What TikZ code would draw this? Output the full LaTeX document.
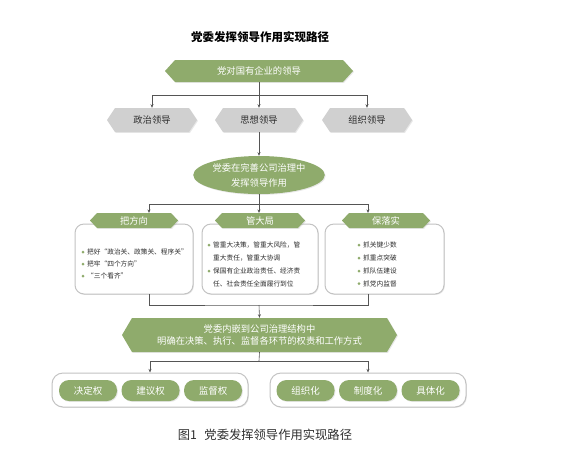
\documentclass[tikz,border=0pt]{standalone}
\usepackage{fontspec}
\setmainfont{Noto Sans CJK SC}
\usetikzlibrary{arrows.meta,shadows,shapes.geometric}
\definecolor{pgreen}{RGB}{143,171,108}
\definecolor{pgray}{RGB}{208,208,208}
\definecolor{lnc}{RGB}{85,85,85}
\definecolor{bord}{RGB}{195,195,195}
\definecolor{txt}{RGB}{45,45,45}
% name, x, y, width, height, tip depth, fill colour, text
\newcommand\hexa[8]{%
  \fill[fill=#7, softshadow] (#2-#4/2,#3) -- (#2-#4/2+#6,#3-#5/2) -- (#2+#4/2-#6,#3-#5/2)
     -- (#2+#4/2,#3) -- (#2+#4/2-#6,#3+#5/2) -- (#2-#4/2+#6,#3+#5/2) -- cycle;
  \node[minimum width=#4pt, minimum height=#5pt, inner sep=0pt, align=center] (#1) at (#2,#3) {#8};
}
\begin{document}
\begin{tikzpicture}[x=1pt,y=-1pt,
  softshadow/.style={drop shadow={opacity=0.18, shadow xshift=0.9pt, shadow yshift=-0.9pt}},
  conn/.style={draw=lnc, line width=0.6pt},
  arr/.style={conn, -{Stealth[length=3.6pt,width=3pt]}},
  wtxt/.style={text=white, font=\fontsize{9.3}{15}\selectfont},
  gtxt/.style={text=txt, font=\fontsize{9.3}{15}\selectfont},
  panel/.style={draw=bord, line width=1pt, fill=white, rounded corners=9pt, softshadow, inner sep=0pt},
  pill/.style={fill=pgreen, rounded corners=10pt, minimum width=58pt, minimum height=21pt, inner sep=0pt, softshadow, text=white, font=\fontsize{9.5}{12}\selectfont},
  btxt/.style={anchor=west, inner sep=0pt, text=txt, font=\fontsize{6.7}{8}\selectfont},
  bul/.style={fill=pgreen}
]
\useasboundingbox[fill=white] (0,0) rectangle (583,459);

% title
\node[font=\fontsize{11.5}{14}\selectfont\bfseries, text=black] (title) at (260,37) {党委发挥领导作用实现路径};

% top level
\hexa{top}{259}{71}{188}{22}{10}{pgreen}{\color{white}\fontsize{9.3}{12}\selectfont 党对国有企业的领导}

\hexa{zz}{152}{120}{90}{24}{8}{pgray}{\color{txt}\fontsize{9.3}{12}\selectfont 政治领导}
\hexa{sx}{259}{120}{88}{24}{8}{pgray}{\color{txt}\fontsize{9.3}{12}\selectfont 思想领导}
\hexa{zu}{367}{120}{90}{24}{8}{pgray}{\color{txt}\fontsize{9.3}{12}\selectfont 组织领导}

\coordinate (j1) at (259,95);
\draw[conn] (top.south) -- (j1);
\draw[arr] (j1) -| (zz.north);
\draw[arr] (j1) -- (sx.north);
\draw[arr] (j1) -| (zu.north);

% ellipse
\node[ellipse, fill=pgreen, minimum width=126pt, minimum height=38pt, inner sep=0pt, softshadow, align=center, wtxt] (ell) at (259,175) {党委在完善公司治理中\\发挥领导作用};
\draw[arr] (sx.south) -- (ell.north);

% three panels
\node[panel, minimum width=118pt, minimum height=70pt] (p1) at (134,259) {};
\node[panel, minimum width=116pt, minimum height=70pt] (p2) at (260,259) {};
\node[panel, minimum width=119pt, minimum height=70pt] (p3) at (384.5,259) {};

\hexa{h1}{134}{220.5}{88}{15}{7}{pgreen}{\color{white}\fontsize{9.3}{12}\selectfont 把方向}
\hexa{h2}{260}{220.5}{90}{15}{7}{pgreen}{\color{white}\fontsize{9.3}{12}\selectfont 管大局}
\hexa{h3}{386}{220.5}{88}{15}{7}{pgreen}{\color{white}\fontsize{9.3}{12}\selectfont 保落实}

\coordinate (j2) at (259,204);
\coordinate (a1) at (149,213);
\coordinate (a2) at (259,213);
\coordinate (a3) at (368,213);
\draw[conn] (ell.south) -- (j2);
\draw[arr] (j2) -| (a1);
\draw[arr] (j2) -- (a2);
\draw[arr] (j2) -| (a3);

% panel texts
\fill[bul] (83,252) circle (1.5);
\fill[bul] (83,264) circle (1.5);
\fill[bul] (83,276) circle (1.5);
\node[btxt] (t1a) at (87,252) {把好“政治关、政策关、程序关”};
\node[btxt] (t1b) at (87,264) {把牢“四个方向”};
\node[btxt] (t1c) at (87,276) {“三个看齐”};

\fill[bul] (209,245) circle (1.5);
\fill[bul] (209,271) circle (1.5);
\node[btxt] (t2a) at (213,245) {管重大决策，管重大风险，管};
\node[btxt] (t2b) at (213,258) {重大责任，管重大协调};
\node[btxt] (t2c) at (213,271) {保国有企业政治责任、经济责};
\node[btxt] (t2d) at (213,283.5) {任、社会责任全面履行到位};

\fill[bul] (359,245) circle (1.5);
\fill[bul] (359,258) circle (1.5);
\fill[bul] (359,271) circle (1.5);
\fill[bul] (359,283.5) circle (1.5);
\node[btxt] (t3a) at (363,245) {抓关键少数};
\node[btxt] (t3b) at (363,258) {抓重点突破};
\node[btxt] (t3c) at (363,271) {抓队伍建设};
\node[btxt] (t3d) at (363,283.5) {抓党内监督};

% join below panels
\coordinate (d1) at (149,294);
\coordinate (d2) at (259,294);
\coordinate (d3) at (368,294);
\coordinate (j3) at (259,305);
\draw[conn] (d1) |- (j3) -| (d3);

% big hexagon
\hexa{big}{259.5}{335}{275}{34}{10}{pgreen}{\color{white}\fontsize{9.3}{15}\selectfont 党委内嵌到公司治理结构中\\\color{white}\fontsize{9.3}{15}\selectfont 明确在决策、执行、监督各环节的权责和工作方式}
\draw[arr] (j3) -- (big.north);

% bottom containers
\node[panel, rounded corners=11pt, minimum width=196pt, minimum height=34pt] (c1) at (150,390) {};
\node[panel, rounded corners=11pt, minimum width=196pt, minimum height=34pt] (c2) at (368,390) {};
\coordinate (j4) at (259,361);
\draw[conn] (big.south) -- (j4);
\draw[arr] (j4) -| (c1.north);
\draw[arr] (j4) -| (c2.north);

\node[pill] (q1) at (88,390.5) {决定权};
\node[pill] (q2) at (150.5,390.5) {建议权};
\node[pill] (q3) at (213,390.5) {监督权};
\node[pill] (q4) at (305.5,390.5) {组织化};
\node[pill] (q5) at (368,390.5) {制度化};
\node[pill] (q6) at (430.5,390.5) {具体化};

% caption
\node[text=txt, font=\fontsize{12.3}{14}\selectfont] (cap) at (265,435) {图1\hspace{0.6em}党委发挥领导作用实现路径};
\end{tikzpicture}
\end{document}
